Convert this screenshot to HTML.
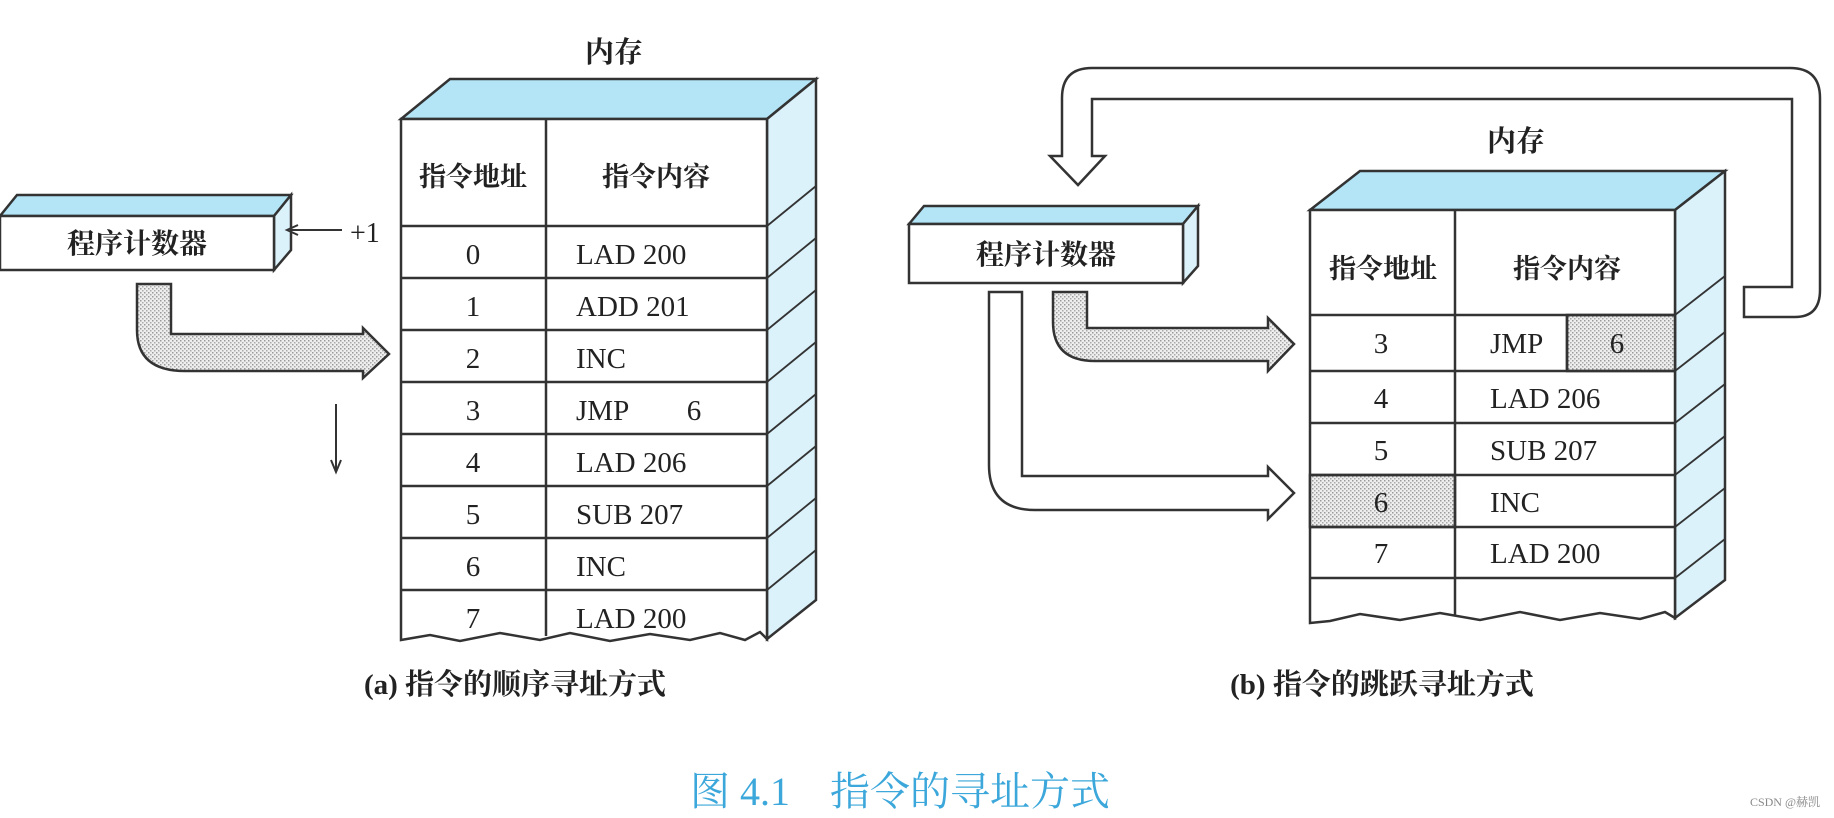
<!DOCTYPE html>
<html><head><meta charset="utf-8"><style>
html,body{margin:0;padding:0;background:#fff;}
svg{display:block;}
text{font-family:"Liberation Serif","Noto Serif CJK SC",serif;fill:#222;}
.cj{font-family:"Liberation Serif","Noto Serif CJK SC","Noto Sans CJK SC",serif;font-weight:bold;}
</style></head><body>
<svg width="1834" height="818" viewBox="0 0 1834 818" xmlns="http://www.w3.org/2000/svg">
<defs>
<pattern id="dots" width="4" height="4" patternUnits="userSpaceOnUse">
<rect width="4" height="4" fill="#eee"/>
<rect x="0" y="0" width="1.5" height="1.5" fill="#999"/>
<rect x="2" y="2" width="1.5" height="1.5" fill="#aaa"/>
</pattern>
</defs>
<g stroke="#333" stroke-width="2.5" fill="none">
<!-- LEFT MEMORY -->
<polygon points="401,119 450,79 816,79 767,119" fill="#b3e5f7"/>
<polygon points="767,119 816,79 816,600 767,639" fill="#dcf2fb"/>
<path d="M401,119 H767 V639 L760,632 L745,640 L720,633 L690,640 L650,634 L610,641 L570,633 L540,640 L500,633 L460,641 L430,635 L401,640 Z" fill="#fff"/>
<line x1="546" y1="119" x2="546" y2="636"/>
<g>
<line x1="401" y1="226" x2="767" y2="226"/><line x1="401" y1="278" x2="767" y2="278"/>
<line x1="401" y1="330" x2="767" y2="330"/><line x1="401" y1="382" x2="767" y2="382"/>
<line x1="401" y1="434" x2="767" y2="434"/><line x1="401" y1="486" x2="767" y2="486"/>
<line x1="401" y1="538" x2="767" y2="538"/><line x1="401" y1="590" x2="767" y2="590"/>
</g>
<g stroke-width="1.8">
<line x1="767" y1="226" x2="816" y2="186"/><line x1="767" y1="278" x2="816" y2="238"/>
<line x1="767" y1="330" x2="816" y2="290"/><line x1="767" y1="382" x2="816" y2="342"/>
<line x1="767" y1="434" x2="816" y2="394"/><line x1="767" y1="486" x2="816" y2="446"/>
<line x1="767" y1="538" x2="816" y2="498"/><line x1="767" y1="590" x2="816" y2="550"/>
</g>
<!-- PC a -->
<polygon points="0,216 17,195 291,195 274,216" fill="#b3e5f7"/>
<polygon points="274,216 291,195 291,250 274,270" fill="#dcf2fb"/>
<rect x="0" y="216" width="274" height="54" fill="#fff"/>
<line x1="342" y1="230" x2="290" y2="230" stroke-width="2"/>
<path d="M298,225 L287,230 L298,235" stroke-width="2"/>
<line x1="336" y1="404" x2="336" y2="470" stroke-width="2"/>
<path d="M331,460 L336,472 L341,460" stroke-width="2"/>
<!-- shaded arrow a -->
<path d="M137,284 H171 V334 H363 V328 L389,354 L363,378 V371 H185 Q137,371 137,330 Z" fill="url(#dots)"/>

<!-- RIGHT loop arrow -->
<path d="M1062,156 V98 Q1062,68 1092,68 H1790 Q1820,68 1820,98 V290 Q1820,317 1795,317 H1744 V287 H1792 V99 H1092 V156 H1105 L1078,185 L1050,156 Z" fill="#fff"/>
<!-- RIGHT MEMORY -->
<polygon points="1310,210 1360,171 1725,171 1675,210" fill="#b3e5f7"/>
<polygon points="1675,210 1725,171 1725,580 1675,618" fill="#dcf2fb"/>
<path d="M1310,210 H1675 V618 L1665,612 L1640,619 L1600,613 L1560,620 L1520,612 L1480,620 L1440,613 L1400,620 L1360,614 L1330,621 L1310,623 Z" fill="#fff"/>
<rect x="1567" y="315" width="108" height="56" fill="url(#dots)"/>
<rect x="1310" y="475" width="145" height="52" fill="url(#dots)"/>
<line x1="1567" y1="315" x2="1567" y2="371"/>
<line x1="1455" y1="210" x2="1455" y2="616"/>
<g>
<line x1="1310" y1="315" x2="1675" y2="315"/><line x1="1310" y1="371" x2="1675" y2="371"/>
<line x1="1310" y1="423" x2="1675" y2="423"/><line x1="1310" y1="475" x2="1675" y2="475"/>
<line x1="1310" y1="527" x2="1675" y2="527"/><line x1="1310" y1="578" x2="1675" y2="578"/>
</g>
<g stroke-width="1.8">
<line x1="1675" y1="315" x2="1725" y2="276"/><line x1="1675" y1="371" x2="1725" y2="332"/>
<line x1="1675" y1="423" x2="1725" y2="384"/><line x1="1675" y1="475" x2="1725" y2="436"/>
<line x1="1675" y1="527" x2="1725" y2="488"/><line x1="1675" y1="578" x2="1725" y2="539"/>
</g>
<!-- PC b -->
<polygon points="909,224 924,206 1198,206 1183,224" fill="#b3e5f7"/>
<polygon points="1183,224 1198,206 1198,266 1183,283" fill="#dcf2fb"/>
<rect x="909" y="224" width="274" height="59" fill="#fff"/>
<!-- white arrow b -->
<path d="M989,292 H1022 V476 H1268 V467 L1294,493 L1268,519 V510 H1035 Q989,510 989,465 Z" fill="#fff"/>
<!-- shaded arrow b -->
<path d="M1053,292 H1087 V328 H1268 V318 L1294,344 L1268,371 V361 H1095 Q1053,361 1053,322 Z" fill="url(#dots)"/>
</g>

<g font-size="29">
<text class="cj" x="614" y="62" text-anchor="middle">内存</text>
<text class="cj" x="473" y="186" text-anchor="middle" font-size="27">指令地址</text>
<text class="cj" x="656" y="186" text-anchor="middle" font-size="27">指令内容</text>
<text class="cj" x="137" y="253" text-anchor="middle" font-size="28">程序计数器</text>
<text x="350" y="242" font-size="28">+1</text>
<text x="473" y="264" text-anchor="middle">0</text><text x="576" y="264">LAD  200</text>
<text x="473" y="316" text-anchor="middle">1</text><text x="576" y="316">ADD  201</text>
<text x="473" y="368" text-anchor="middle">2</text><text x="576" y="368">INC</text>
<text x="473" y="420" text-anchor="middle">3</text><text x="576" y="420">JMP</text><text x="694" y="420" text-anchor="middle">6</text>
<text x="473" y="472" text-anchor="middle">4</text><text x="576" y="472">LAD  206</text>
<text x="473" y="524" text-anchor="middle">5</text><text x="576" y="524">SUB  207</text>
<text x="473" y="576" text-anchor="middle">6</text><text x="576" y="576">INC</text>
<text x="473" y="628" text-anchor="middle">7</text><text x="576" y="628">LAD  200</text>
<text x="515" y="694" text-anchor="middle" class="cj" font-size="29">(a) 指令的顺序寻址方式</text>

<text class="cj" x="1516" y="151" text-anchor="middle">内存</text>
<text class="cj" x="1383" y="278" text-anchor="middle" font-size="27">指令地址</text>
<text class="cj" x="1567" y="278" text-anchor="middle" font-size="27">指令内容</text>
<text class="cj" x="1046" y="264" text-anchor="middle" font-size="28">程序计数器</text>
<text x="1381" y="353" text-anchor="middle">3</text><text x="1490" y="353">JMP</text><text x="1617" y="353" text-anchor="middle">6</text>
<text x="1381" y="408" text-anchor="middle">4</text><text x="1490" y="408">LAD   206</text>
<text x="1381" y="460" text-anchor="middle">5</text><text x="1490" y="460">SUB   207</text>
<text x="1381" y="512" text-anchor="middle">6</text><text x="1490" y="512">INC</text>
<text x="1381" y="563" text-anchor="middle">7</text><text x="1490" y="563">LAD   200</text>
<text x="1382" y="694" text-anchor="middle" class="cj" font-size="29">(b) 指令的跳跃寻址方式</text>
</g>
<text x="690" y="805" font-size="40" style="fill:#3ca7da" font-family="Liberation Serif,Noto Serif CJK SC,serif">图 4.1　指令的寻址方式</text>
<text x="1820" y="806" font-size="12" text-anchor="end" style="fill:#888" font-family="Liberation Sans,Noto Sans CJK SC,sans-serif">CSDN @赫凯</text>
</svg>
</body></html>
